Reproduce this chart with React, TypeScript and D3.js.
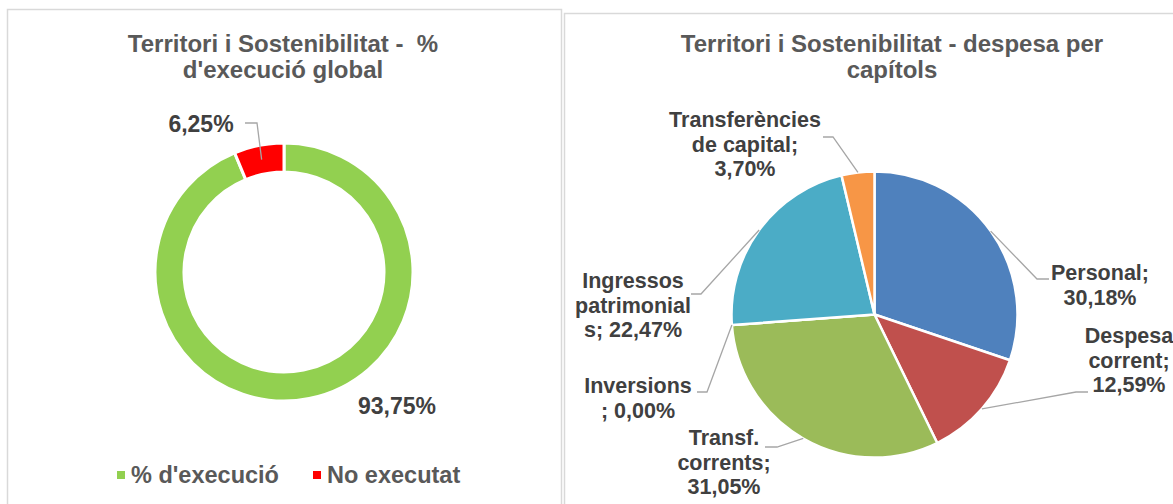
import React from 'react';
import * as d3 from 'd3';

// doughnut: % d'execució global
const donutCategories = ["% d'execució", 'No executat'];
const donutValues = [93.75, 6.25];
const donutColors = ['#92D050', '#FF0000'];

// pie: despesa per capítols
const pieCategories = ['Personal', 'Despesa corrent', 'Transf. corrents', 'Inversions', 'Ingressos patrimonials', 'Transferències de capital'];
const pieValues = [30.18, 12.59, 31.05, 0.0, 22.47, 3.7];
const pieColors = ['#4F81BD', '#C0504D', '#9BBB59', '#8064A2', '#4BACC6', '#F79646'];
const pieLabelLines = [
  ['Personal;', '30,18%'],
  ['Despesa', 'corrent;', '12,59%'],
  ['Transf.', 'corrents;', '31,05%'],
  ['Inversions', '; 0,00%'],
  ['Ingressos', 'patrimonial', 's; 22,47%'],
  ['Transferències', 'de capital;', '3,70%'],
];

const FONT = "'Liberation Sans', Arial, Helvetica, sans-serif";
const TITLE_COLOR = '#595959';
const LABEL_COLOR = '#404040';
const LEADER = '#A6A6A6';

const fmt = (v: number) => v.toFixed(2).replace('.', ',') + '%';

// label layout (text centre x, first baseline, leader elbow and end)
const donutLabelPos = [
  { x: 397, y: 414, elbow: null as null | number[], end: null as null | number[] },
  { x: 201, y: 132, elbow: [257, 123], end: [245, 123] },
];
const pieLabelPos = [
  { x: 1100, y: 280, elbow: [1037, 279], end: [1049, 279] },
  { x: 1129, y: 343, elbow: [1076, 392], end: [1088, 392] },
  { x: 724, y: 445, elbow: [777, 447], end: [765, 447] },
  { x: 638, y: 393, elbow: [707, 392], end: [697, 392] },
  { x: 633, y: 288, elbow: [701, 294], end: [691, 294] },
  { x: 745, y: 127, elbow: [833, 137], end: [823, 137] },
];

const polar = (cx: number, cy: number, r: number, a: number) => [cx + r * Math.sin(a), cy - r * Math.cos(a)];

const Title = ({ x, lines }: { x: number; lines: string[] }) => (
  <text textAnchor="middle" fontSize={24} fontWeight="bold" fill={TITLE_COLOR} fontFamily={FONT} style={{ whiteSpace: 'pre' }}>
    {lines.map((t, i) => (
      <tspan key={i} x={x} y={52 + i * 26}>{t}</tspan>
    ))}
  </text>
);

const Donut = () => {
  const cx = 284, cy = 272, outer = 129, inner = 100;
  const arcs = d3.pie<number>().sort(null).value(d => d)(donutValues);
  const arc = d3.arc<d3.PieArcDatum<number>>().innerRadius(inner).outerRadius(outer);
  return (
    <g>
      <rect x={7.5} y={9.5} width={554} height={520} fill="#fff" stroke="#D9D9D9" strokeWidth={1.5} />
      <Title x={283} lines={['Territori i Sostenibilitat -  %', "d'execució global"]} />
      <g transform={`translate(${cx},${cy})`}>
        {arcs.map((a, i) => (
          <path key={i} d={arc(a) || ''} fill={donutColors[i]} stroke="#fff" strokeWidth={3} />
        ))}
      </g>
      {arcs.map((a, i) => {
        const p = donutLabelPos[i];
        const mid = (a.startAngle + a.endAngle) / 2;
        const s = polar(cx, cy, (inner + outer) / 2, mid);
        return (
          <g key={i}>
            {p.elbow && p.end && (
              <polyline points={`${s[0]},${s[1]} ${p.elbow[0]},${p.elbow[1]} ${p.end[0]},${p.end[1]}`} fill="none" stroke={LEADER} strokeWidth={1.3} />
            )}
            <text x={p.x} y={p.y} textAnchor="middle" fontSize={23} fontWeight="bold" fill={LABEL_COLOR} fontFamily={FONT}>{fmt(donutValues[i])}</text>
          </g>
        );
      })}
      {/* legend */}
      {donutCategories.map((c, i) => {
        const lx = [117, 313][i];
        return (
          <g key={c}>
            <rect x={lx} y={471} width={8} height={8} fill={donutColors[i]} />
            <text x={lx + 14} y={483} fontSize={23.5} fontWeight="bold" fill={TITLE_COLOR} fontFamily={FONT}>{c}</text>
          </g>
        );
      })}
    </g>
  );
};

const Pie = () => {
  const cx = 874.5, cy = 314.5, r = 143;
  const arcs = d3.pie<number>().sort(null).value(d => d)(pieValues);
  const arc = d3.arc<d3.PieArcDatum<number>>().innerRadius(0).outerRadius(r);
  return (
    <g>
      <rect x={564.5} y={13.5} width={700} height={520} fill="#fff" stroke="#D9D9D9" strokeWidth={1.5} />
      <Title x={892} lines={['Territori i Sostenibilitat - despesa per', 'capítols']} />
      <g transform={`translate(${cx},${cy})`}>
        {arcs.map((a, i) => (
          <path key={pieCategories[i]} d={arc(a) || ''} fill={pieColors[i]} stroke="#fff" strokeWidth={2.5} strokeLinejoin="round" />
        ))}
      </g>
      {arcs.map((a, i) => {
        const p = pieLabelPos[i];
        const mid = (a.startAngle + a.endAngle) / 2;
        const s = polar(cx, cy, r, mid);
        return (
          <g key={i}>
            <polyline points={`${s[0]},${s[1]} ${p.elbow[0]},${p.elbow[1]} ${p.end[0]},${p.end[1]}`} fill="none" stroke={LEADER} strokeWidth={1.3} />
            <text textAnchor="middle" fontSize={21.5} fontWeight="bold" fill={LABEL_COLOR} fontFamily={FONT}>
              {pieLabelLines[i].map((t, j) => (
                <tspan key={j} x={p.x} y={p.y + j * 24.5}>{t}</tspan>
              ))}
            </text>
          </g>
        );
      })}
    </g>
  );
};

export default function App() {
  return (
    <div style={{ position: 'absolute', left: 0, top: 0 }}>
      <svg width={1173} height={504} style={{ display: 'block', background: '#fff' }}>
        <Donut />
        <Pie />
      </svg>
    </div>
  );
}
